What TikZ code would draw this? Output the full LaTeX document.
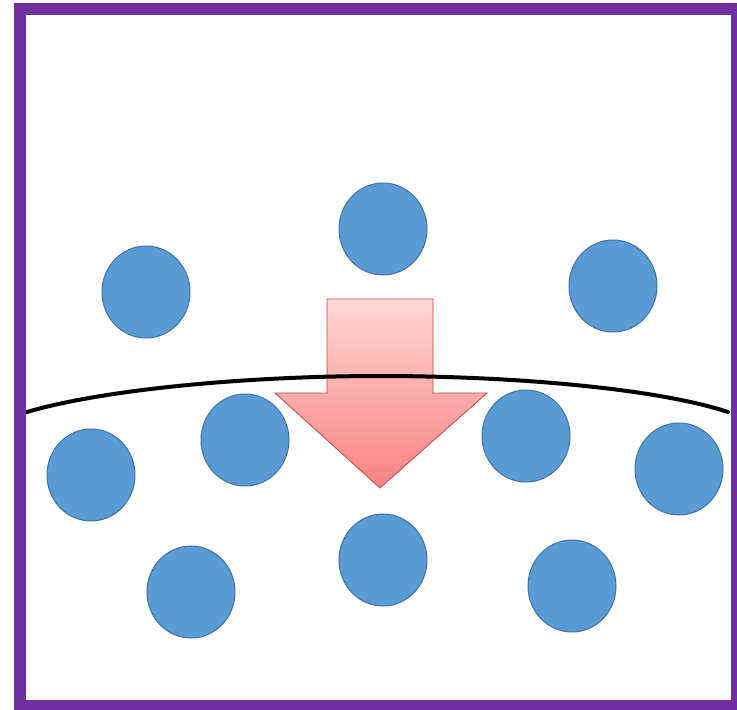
\documentclass[tikz,border=0pt]{standalone}
\begin{document}
\begin{tikzpicture}[x=1pt,y=-1pt,
  ball/.style={fill=ballblue,draw=balledge,line width=1pt},
  ]
\definecolor{ballblue}{RGB}{91,155,213}
\definecolor{balledge}{RGB}{65,113,156}
\definecolor{framepurple}{RGB}{112,48,160}
\definecolor{arrowtop}{RGB}{255,214,214}
\definecolor{arrowbot}{RGB}{248,130,130}
\definecolor{arrowedge}{RGB}{190,70,70}
\useasboundingbox (0,0) rectangle (737,710);
\fill[white] (0,0) rectangle (737,710);
% circles
\foreach \cx/\cy in {383/229, 146/292, 613/286, 245/440, 91/475, 526/436, 679/469, 383/560, 191/592, 572/586}
  \draw[ball] (\cx,\cy) ellipse [x radius=44, y radius=46];
% arrow
\draw[arrowedge,line width=0.8pt,top color=arrowtop,bottom color=arrowbot,line join=miter]
  (327,299) -- (433,299) -- (433,393) -- (487,393) -- (380,488) -- (275,393) -- (327,393) -- cycle;
% curve
\coordinate (cL) at (27,412);
\coordinate (cM) at (380,376);
\coordinate (cR) at (728,412);
\draw[line width=4pt,line cap=round] (cL) .. controls (105,389) and (250,376) .. (cM)
  .. controls (510,376) and (655,388) .. (cR);
% frame
\draw[framepurple,line width=12pt] (20,9) rectangle (737,706);
\end{tikzpicture}
\end{document}
